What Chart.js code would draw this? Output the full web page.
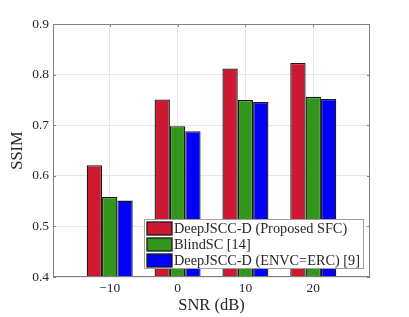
<!DOCTYPE html>
<html>
<head>
<meta charset="utf-8">
<script src="https://cdn.jsdelivr.net/npm/chart.js@4"></script>
<style>
  html, body { margin: 0; padding: 0; background: #fff; }
  #wrap { width: 409px; height: 317px; }
</style>
</head>
<body>
<div id="wrap"><canvas id="chart" width="409" height="317"></canvas></div>
<script>
Chart.defaults.font.family = 'Liberation Serif';
Chart.defaults.color = '#262626';

const snrValues = [-10, 0, 10, 20];
const proposedSsim = [0.621, 0.751, 0.812, 0.823];
const blindScSsim = [0.558, 0.698, 0.750, 0.756];
const envcSsim = [0.551, 0.688, 0.746, 0.752];
const seriesLabels = ['DeepJSCC-D (Proposed SFC)', 'BlindSC [14]', 'DeepJSCC-D (ENVC=ERC) [9]'];

const toPoints = function toPoints(vals) {
  return snrValues.map((s, i) => ({ x: s, y: vals[i] }));
}

// MATLAB style box with inward ticks + legend inside the axes
const boxPlugin = {
  id: 'box',
  afterDatasetsDraw: chart => {
    const ctx = chart.ctx;
    const a = chart.chartArea;
    const xs = chart.scales.x, ys = chart.scales.y;
    ctx.save();
    ctx.strokeStyle = '#808080';
    ctx.lineWidth = 1;
    ctx.strokeRect(a.left + 0.5, a.top + 0.5, a.right - a.left - 1, a.bottom - a.top - 1);
    ctx.beginPath();
    xs.ticks.forEach(t => {
      const px = Math.round(xs.getPixelForValue(t.value)) + 0.5;
      ctx.moveTo(px, a.bottom); ctx.lineTo(px, a.bottom - 3);
      ctx.moveTo(px, a.top); ctx.lineTo(px, a.top + 3);
    });
    ys.ticks.forEach(t => {
      const py = Math.round(ys.getPixelForValue(t.value)) + 0.5;
      ctx.moveTo(a.left, py); ctx.lineTo(a.left + 3, py);
      ctx.moveTo(a.right, py); ctx.lineTo(a.right - 3, py);
    });
    ctx.stroke();
    ctx.restore();
  },
  afterDraw: chart => {
    const ctx = chart.ctx;
    const a = chart.chartArea;
    const x0 = a.left + 91, y0 = a.top + 195, w = 219, h = 49;
    ctx.save();
    ctx.fillStyle = '#fff';
    ctx.fillRect(x0, y0, w, h);
    ctx.strokeStyle = '#a0a0a0';
    ctx.lineWidth = 1;
    ctx.strokeRect(x0 + 0.5, y0 + 0.5, w, h);
    ctx.font = '14.3px "Liberation Serif"';
    ctx.textBaseline = 'middle';
    chart.data.datasets.forEach((ds, i) => {
      const cy = y0 + 9.5 + i * 16;
      ctx.fillStyle = ds.backgroundColor;
      ctx.fillRect(x0 + 3, cy - 6.5, 25, 13);
      ctx.strokeStyle = '#1a1a1a';
      ctx.lineWidth = 1.3;
      ctx.strokeRect(x0 + 3, cy - 6.5, 25, 13);
      ctx.fillStyle = '#262626';
      ctx.fillText(ds.label, x0 + 30, cy + 0.5);
    });
    ctx.restore();
  }
};

const barColors = ['rgb(204, 26, 51)', 'rgb(51, 150, 28)', 'rgb(0, 0, 255)'];

new Chart(document.getElementById('chart'), {
  type: 'bar',
  plugins: [boxPlugin],
  data: {
    datasets: [proposedSsim, blindScSsim, envcSsim].map((vals, i) => ({
      label: seriesLabels[i],
      data: toPoints(vals),
      backgroundColor: barColors[i],
      borderColor: '#1a1a1a',
      borderWidth: 1.3,
      borderSkipped: 'start',
      categoryPercentage: 0.678,
      barPercentage: 1.0
    }))
  },
  options: {
    responsive: false,
    animation: false,
    layout: { padding: { top: 24, right: 39, left: 0, bottom: 0 } },
    plugins: {
      legend: { display: false },
      tooltip: { enabled: false }
    },
    scales: {
      x: {
        type: 'linear',
        offset: false,
        min: -18.36,
        max: 28.36,
        afterBuildTicks: scale => { scale.ticks = snrValues.map(v => ({ value: v })); },
        afterFit: scale => { scale.height = 40; },
        grid: { color: '#e6e6e6', drawTicks: false, offset: false },
        border: { display: false },
        ticks: {
          padding: 3,
          font: { size: 13.5 },
          color: '#262626',
          callback: v => v < 0 ? '\u2212' + Math.abs(v) : String(v)
        },
        title: {
          display: true,
          text: 'SNR (dB)',
          font: { size: 16.5 },
          color: '#262626',
          padding: { top: 0, bottom: 1 }
        }
      },
      y: {
        min: 0.4,
        max: 0.9,
        afterFit: scale => { scale.width = 53; },
        grid: { color: '#e6e6e6', drawTicks: false },
        border: { display: false },
        ticks: {
          stepSize: 0.1,
          padding: 4,
          font: { size: 13.5 },
          color: '#262626',
          callback: v => v.toFixed(1)
        },
        title: {
          display: true,
          text: 'SSIM',
          font: { size: 16.5 },
          color: '#262626',
          padding: { top: 8, bottom: 0 }
        }
      }
    }
  }
});
</script>
</body>
</html>
